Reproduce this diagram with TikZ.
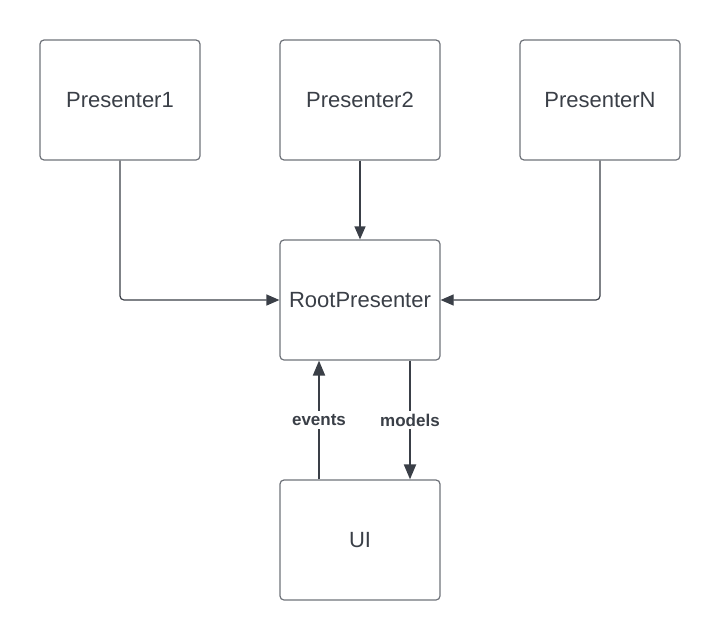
\documentclass[tikz,border=0pt]{standalone}
\usepackage{fontspec}
\setmainfont{Liberation Sans}
\usetikzlibrary{arrows.meta}
\definecolor{boxline}{HTML}{6F737A}
\definecolor{ink}{HTML}{3A3F47}

\begin{document}
\begin{tikzpicture}[x=1pt,y=-1pt,
    box/.style={draw=boxline,line width=1.2pt,rounded corners=4pt,minimum width=160pt,minimum height=120pt,text=ink,font=\fontsize{22}{26}\selectfont},
    conn/.style={draw=ink,line width=1.2pt,rounded corners=4pt,-{Triangle[length=13pt,width=11pt]}},
    flow/.style={draw=ink,line width=2pt,-{Triangle[length=15pt,width=12pt]}},
    lbl/.style={fill=white,text=ink,inner sep=3pt,font=\fontsize{17}{20}\selectfont\bfseries}]
    \useasboundingbox (0,0) rectangle (720,640);
    % presenters
    \node[box] (p1) at (120,100) {Presenter1};
    \node[box] (p2) at (360,100) {Presenter2};
    \node[box] (pn) at (600,100) {PresenterN};
    % root and ui
    \node[box] (root) at (360,300) {RootPresenter};
    \node[box] (ui) at (360,540) {UI};
    % connectors
    \draw[conn] (p1.south) |- (root.west);
    \draw[conn] (p2.south) -- (root.north);
    \draw[conn] (pn.south) |- (root.east);
    \draw[flow] ([xshift=-41pt]ui.north) -- node[lbl] {events} ([xshift=-41pt]root.south);
    \draw[flow] ([xshift=50pt]root.south) -- node[lbl] {models} ([xshift=50pt]ui.north);
\end{tikzpicture}
\end{document}
